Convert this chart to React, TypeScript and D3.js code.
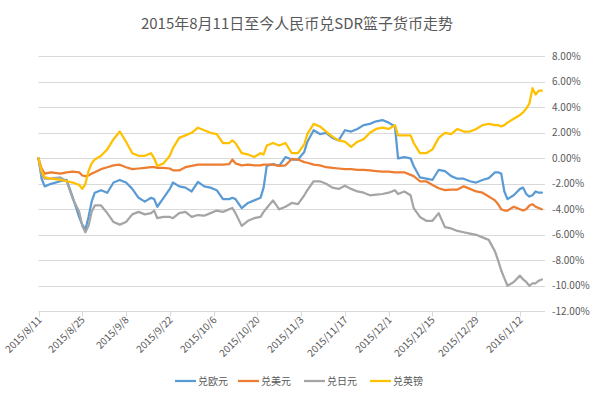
import React from 'react';
import * as d3 from 'd3';

const dates: string[] = [
  '2015-08-11', '2015-08-12', '2015-08-13', '2015-08-15', '2015-08-18', '2015-08-20', '2015-08-22', '2015-08-24', '2015-08-25', '2015-08-26',
  '2015-08-27', '2015-08-28', '2015-08-29', '2015-08-31', '2015-09-02', '2015-09-04', '2015-09-06', '2015-09-08', '2015-09-10', '2015-09-12',
  '2015-09-14', '2015-09-16', '2015-09-17', '2015-09-18', '2015-09-20', '2015-09-22', '2015-09-23', '2015-09-25', '2015-09-27', '2015-09-29',
  '2015-10-01', '2015-10-03', '2015-10-05', '2015-10-07', '2015-10-09', '2015-10-11', '2015-10-12', '2015-10-13', '2015-10-15', '2015-10-17',
  '2015-10-19', '2015-10-21', '2015-10-22', '2015-10-23', '2015-10-25', '2015-10-27', '2015-10-29', '2015-10-31', '2015-11-02', '2015-11-04',
  '2015-11-05', '2015-11-07', '2015-11-09', '2015-11-11', '2015-11-13', '2015-11-15', '2015-11-17', '2015-11-19', '2015-11-21', '2015-11-23',
  '2015-11-25', '2015-11-27', '2015-11-29', '2015-12-01', '2015-12-03', '2015-12-04', '2015-12-06', '2015-12-08', '2015-12-09', '2015-12-11',
  '2015-12-13', '2015-12-15', '2015-12-17', '2015-12-19', '2015-12-21', '2015-12-23', '2015-12-25', '2015-12-27', '2015-12-29', '2015-12-31',
  '2016-01-02', '2016-01-04', '2016-01-05', '2016-01-06', '2016-01-07', '2016-01-08', '2016-01-10', '2016-01-12', '2016-01-13', '2016-01-14',
  '2016-01-15', '2016-01-16', '2016-01-17', '2016-01-18', '2016-01-19',
];

// percent change vs 2015/8/11
const eur: number[] = [
  0, -1.6, -2.2, -2.0, -1.8, -1.7, -3.1, -4.6, -5.2, -5.6,
  -4.6, -3.4, -2.7, -2.5, -2.7, -1.9, -1.7, -1.9, -2.4, -3.1,
  -3.4, -3.1, -3.2, -3.8, -3.1, -2.4, -1.9, -2.2, -2.3, -2.6,
  -1.85, -2.2, -2.3, -2.5, -3.2, -3.2, -3.1, -3.2, -3.9, -3.5,
  -3.3, -3.1, -2.3, -0.6, -0.45, -0.6, 0.1, -0.1, -0.1, 0.5,
  1.3, 2.2, 1.9, 2.0, 1.6, 1.4, 2.2, 2.1, 2.3, 2.6,
  2.7, 2.9, 3.0, 2.8, 2.5, 0.0, 0.1, 0.0, -0.6, -1.5,
  -1.6, -1.7, -0.9, -1.0, -1.4, -1.6, -1.6, -1.8, -1.9, -1.7,
  -1.55, -1.1, -1.1, -1.2, -2.6, -3.2, -2.9, -2.4, -2.3, -2.8,
  -3.0, -2.9, -2.6, -2.7, -2.7,
];

const usd: number[] = [
  0, -0.8, -1.2, -1.1, -1.2, -1.1, -1.05, -1.1, -1.35, -1.4,
  -1.35, -1.2, -1.1, -0.85, -0.7, -0.55, -0.5, -0.7, -0.85, -0.8,
  -0.75, -0.7, -0.7, -0.75, -0.75, -0.8, -0.95, -0.95, -0.7, -0.6,
  -0.5, -0.5, -0.5, -0.5, -0.5, -0.45, -0.1, -0.4, -0.55, -0.5,
  -0.55, -0.55, -0.5, -0.5, -0.5, -0.6, -0.55, -0.05, -0.1, -0.3,
  -0.35, -0.5, -0.55, -0.7, -0.75, -0.8, -0.85, -0.85, -0.9, -0.9,
  -0.95, -1.0, -1.05, -1.05, -1.1, -1.1, -1.1, -1.3, -1.4, -1.8,
  -1.8, -2.1, -2.35, -2.5, -2.45, -2.45, -2.2, -2.4, -2.6, -2.7,
  -3.0, -3.3, -3.6, -4.0, -4.1, -4.1, -3.8, -4.0, -4.1, -4.0,
  -3.7, -3.6, -3.8, -3.9, -4.0,
];

const jpy: number[] = [
  0, -1.3, -1.6, -1.6, -1.5, -1.8, -3.2, -4.2, -5.3, -5.8,
  -5.3, -4.2, -3.7, -3.7, -4.3, -5.0, -5.2, -5.0, -4.4, -4.2,
  -4.4, -4.3, -4.1, -4.7, -4.6, -4.6, -4.7, -4.3, -4.2, -4.6,
  -4.45, -4.5, -4.3, -4.1, -4.2, -4.0, -3.9, -4.3, -5.3, -4.9,
  -4.7, -4.6, -4.2, -3.9, -3.3, -4.0, -3.8, -3.5, -3.6, -2.9,
  -2.5, -1.8, -1.8, -2.0, -2.3, -2.4, -2.15, -2.4, -2.6, -2.7,
  -2.9, -2.85, -2.8, -2.7, -2.5, -2.8, -2.6, -2.9, -3.9, -4.6,
  -4.9, -4.9, -4.3, -5.4, -5.5, -5.7, -5.8, -5.9, -6.0, -6.2,
  -6.4, -7.3, -8.0, -8.8, -9.4, -10.0, -9.7, -9.2, -9.5, -9.7,
  -10.0, -9.8, -9.8, -9.6, -9.5,
];

const gbp: number[] = [
  0, -1.0, -1.5, -1.6, -1.7, -1.8, -1.9, -2.1, -2.4, -2.0,
  -1.0, -0.4, -0.1, 0.2, 0.7, 1.5, 2.1, 1.3, 0.4, 0.2,
  0.2, 0.4, 0.0, -0.6, -0.4, 0.2, 0.8, 1.6, 1.8, 2.0,
  2.4, 2.2, 2.0, 1.9, 1.2, 1.2, 1.4, 1.2, 0.4, 0.3,
  0.1, 0.4, 0.3, 1.0, 1.2, 1.0, 1.2, 0.4, 0.4, 1.1,
  1.9, 2.7, 2.5, 2.1, 1.7, 1.4, 1.3, 0.9, 1.3, 1.5,
  2.0, 2.3, 2.4, 2.3, 2.6, 1.8, 1.8, 1.8, 1.2, 0.4,
  0.4, 0.7, 1.6, 2.0, 1.9, 2.3, 2.1, 2.1, 2.3, 2.6,
  2.7, 2.6, 2.6, 2.5, 2.6, 2.8, 3.1, 3.4, 3.6, 3.9,
  4.3, 5.5, 5.0, 5.3, 5.3,
];

const seriesNames = ['兑欧元', '兑美元', '兑日元', '兑英镑'];
const seriesColors = ['#5B9BD5', '#ED7D31', '#A5A5A5', '#FFC000'];
const yTicks = [8, 6, 4, 2, 0, -2, -4, -6, -8, -10, -12];
const axisStart = '2015-08-11';
const axisEnd = '2016-01-20';

const W = 600;
const H = 395;
const FONT = '"Noto Sans CJK SC", "Noto Sans", sans-serif';

const App: React.FC = () => {
  const parse = d3.timeParse('%Y-%m-%d');
  const fmt = d3.timeFormat('%Y/%-m/%-d');
  const start = parse(axisStart)!;
  const end = parse(axisEnd)!;
  const parsedDates = dates.map(d => parse(d)!);

  const x = d3.scaleTime().domain([start, end]).range([38.5, 545]);
  const y = d3.scaleLinear().domain([-12, 8]).range([311.3, 56.3]);

  // one tick every 14 days from the first date
  const xTicks = d3.timeDay.range(start, d3.timeDay.offset(end, 1), 14);

  const allSeries = [eur, usd, jpy, gbp];
  const line = d3.line<number>()
    .x((_, i) => x(parsedDates[i]))
    .y(v => y(v));

  const legendX = [175, 238, 304, 370];
  const base = Math.round(y(-12)) + 0.5;

  return (
    <svg width={W} height={H} style={{ position: 'absolute', left: 0, top: 0, background: '#fff', fontFamily: FONT }}>
      <rect x={0} y={0} width={W} height={H} fill="#fff" />
      <text x={297} y={29} textAnchor="middle" fontSize={15} fill="#595959" style={{ fontFamily: FONT }}>
        2015年8月11日至今人民币兑SDR篮子货币走势
      </text>

      {/* gridlines */}
      {yTicks.map(t => (
        <line key={t} x1={38.5} x2={545} y1={Math.round(y(t)) + 0.5} y2={Math.round(y(t)) + 0.5}
          stroke="#D9D9D9" strokeWidth={1} />
      ))}

      {/* right axis labels */}
      {yTicks.map(t => (
        <text key={'l' + t} x={552} y={y(t)} dy="0.35em" fontSize={10} fill="#595959" style={{ fontFamily: FONT }}>
          {t.toFixed(2)}%
        </text>
      ))}

      {/* x axis ticks & labels */}
      {xTicks.map((t, i) => {
        const px = Math.round(x(t)) + 0.5;
        return (
          <g key={i}>
            <line x1={px} x2={px} y1={base} y2={base + 5} stroke="#D9D9D9" />
            <text transform={`translate(${px + 3},${base + 9}) rotate(-45)`} textAnchor="end"
              fontSize={10} fill="#595959" style={{ fontFamily: FONT }}>
              {fmt(t)}
            </text>
          </g>
        );
      })}

      {/* series */}
      {allSeries.map((s, i) => (
        <path key={seriesNames[i]} d={line(s) || ''} fill="none" stroke={seriesColors[i]}
          strokeWidth={2.25} strokeLinejoin="round" strokeLinecap="round" />
      ))}

      {/* legend */}
      {seriesNames.map((n, i) => (
        <g key={'lg' + n}>
          <line x1={legendX[i]} x2={legendX[i] + 21} y1={381} y2={381} stroke={seriesColors[i]}
            strokeWidth={2.25} />
          <text x={legendX[i] + 23} y={381} dy="0.35em" fontSize={10} fill="#595959" style={{ fontFamily: FONT }}>{n}</text>
        </g>
      ))}
    </svg>
  );
};

export default App;
